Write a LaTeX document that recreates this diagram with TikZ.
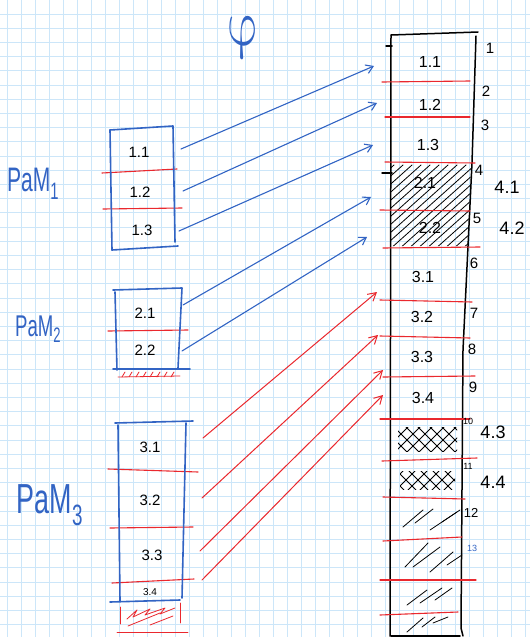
\documentclass[tikz,border=0pt]{standalone}
\usepackage{fontspec}
\setmainfont{Liberation Sans}
\usetikzlibrary{arrows.meta}
\definecolor{gridc}{RGB}{204,230,249}
\definecolor{penblue}{RGB}{50,100,196}
\definecolor{penred}{RGB}{234,40,46}
\begin{document}
\begin{tikzpicture}[x=1pt,y=-1pt,
  gridline/.style={draw=gridc,line width=0.9pt},
  bluepen/.style={draw=penblue,line width=1.6pt,line cap=round,line join=round},
  redsep/.style={draw=penred,line width=1.1pt,line cap=round},
  redthin/.style={draw=penred,line width=0.8pt,line cap=round,line join=round},
  blackpen/.style={draw=black,line width=1.5pt,line cap=round,line join=round},
  hatch/.style={draw=black,line width=0.8pt,line cap=round},
  cell/.style={inner sep=0pt,font=\fontsize{16}{16}\selectfont},
  lcell/.style={inner sep=0pt,font=\fontsize{15}{15}\selectfont},
  num/.style={inner sep=0pt,font=\fontsize{15}{15}\selectfont},
  bignum/.style={inner sep=0pt,font=\fontsize{18}{18}\selectfont},
  smallnum/.style={inner sep=0pt,font=\fontsize{9}{9}\selectfont},
  pam/.style={inner sep=0pt,text=penblue},
  arrB/.style={draw=penblue,line width=1.1pt,line cap=round,-{Straight Barb[length=7pt,width=9pt]}},
  arrR/.style={draw=penred,line width=1.0pt,line cap=round,-{Straight Barb[length=8pt,width=9pt]}}
]
\fill[white] (0,0) rectangle (530,637);
\useasboundingbox (0,0) rectangle (530,637);
% grid paper
\foreach \k in {0,...,37} \draw[gridline] ({7+14*\k},0) -- ({7+14*\k},637);
\foreach \k in {1,...,44} \draw[gridline] (0,{14.2*\k-0.2}) -- (530,{14.2*\k-0.2});

% title
\node[pam,transform shape,xslant=-0.2] (phi) at (244,38) {\scalebox{4.6}[6.6]{$\varphi$}};

% ---------- right column ----------
% hatching 2.1 / 2.2
\begin{scope}
  \clip (391,164) -- (471,164) -- (468,246) -- (391,246) -- cycle;
  \foreach \k in {0,...,20} \draw[hatch] ({290+9*\k},250) -- ++(95,-85);
\end{scope}
% cross hatching 4.3, 4.4
\begin{scope}
  \clip (398,427) rectangle (457,451);
  \foreach \k in {0,...,9} {\draw[hatch] ({368+12*\k},455) -- ++(30,-30);
                           \draw[hatch] ({368+12*\k},425) -- ++(30,30);}
\end{scope}
\begin{scope}
  \clip (400,471) rectangle (455,489);
  \foreach \k in {0,...,9} {\draw[hatch] ({370+12*\k},492) -- ++(22,-22);
                           \draw[hatch] ({370+12*\k},468) -- ++(22,22);}
\end{scope}
% sparse strokes in lower cells
\draw[hatch] (403,527) -- (423,510);
\draw[hatch] (415,523) -- (433,509);
\draw[hatch] (430,530) -- (457,512);
\draw[hatch] (442,522) -- (460,510);
\draw[hatch] (405,567) -- (428,543);
\draw[hatch] (413,567) -- (440,547);
\draw[hatch] (430,572) -- (453,552);
\draw[hatch] (447,565) -- (462,555);
\draw[hatch] (407,605) -- (427,590);
\draw[hatch] (420,603) -- (442,588);
\draw[hatch] (435,600) -- (452,588);
\draw[hatch] (407,632) -- (423,618);
\draw[hatch] (422,627) -- (435,617);
\draw[hatch] (433,623) -- (448,617);

% column outline
\draw[blackpen] (391,35) -- (478,32);
\draw[blackpen] (391,35) -- (390,636);
\draw[blackpen] (476,36) -- (472,163) -- (463,350) -- (461,628) -- (463,636);
\draw[blackpen] (391,636) -- (460,636);
\draw[blackpen] (386,46) -- (392,46);
\draw[blackpen] (382,173) -- (392,173);

% red separators in column
\draw[redsep] (382,82) -- (470,81);
\draw[redsep] (385,117) -- (470,117);
\draw[redsep] (385,162) -- (475,163);
\draw[redsep] (380,210) -- (470,211);
\draw[redsep] (383,248) -- (480,247);
\draw[redsep] (380,300) -- (472,302);
\draw[redsep] (380,336) -- (470,338);
\draw[redsep] (383,377) -- (475,376);
\draw[redsep] (380,419) -- (470,419);
\draw[redsep] (382,461) -- (477,458);
\draw[redsep] (383,497) -- (465,499);
\draw[redsep] (383,541) -- (462,537);
\draw[redsep] (380,580) -- (476,580);
\draw[redsep] (380,615) -- (458,612);

% column labels
\node[cell] (c11) at (430,62) {1.1};
\node[cell] (c12) at (430,105) {1.2};
\node[cell] (c13) at (428,145) {1.3};
\node[cell] (c21) at (425,183) {2.1};
\node[cell] (c22) at (430,228) {2.2};
\node[cell] (c31) at (423,277) {3.1};
\node[cell] (c32) at (422,317) {3.2};
\node[cell] (c33) at (422,357) {3.3};
\node[cell] (c34) at (423,398) {3.4};

% addresses
\node[num] (n1) at (490,48) {1};
\node[num] (n2) at (486,91) {2};
\node[num] (n3) at (485,125) {3};
\node[num] (n4) at (479,170) {4};
\node[num] (n5) at (477,218) {5};
\node[num] (n6) at (474,263) {6};
\node[num] (n7) at (474,313) {7};
\node[num] (n8) at (472,349) {8};
\node[num] (n9) at (473,387) {9};
\node[smallnum] (n10) at (468,421) {10};
\node[smallnum] (n11) at (468,466) {11};
\node[num,font=\fontsize{13}{13}\selectfont] (n12) at (471,513) {12};
\node[smallnum,text=penblue] (n13) at (472,548) {13};
\node[bignum] (v41) at (507,187) {4.1};
\node[bignum] (v42) at (512,228) {4.2};
\node[bignum] (v43) at (493,432) {4.3};
\node[bignum] (v44) at (493,482) {4.4};

% ---------- left blocks ----------
\node[pam] (pam1) at (33,184) {\scalebox{0.62}[1]{\fontsize{34}{34}\selectfont PaM\textsubscript{1}}};
\node[pam] (pam2) at (38,329) {\scalebox{0.62}[1]{\fontsize{30}{30}\selectfont PaM\textsubscript{2}}};
\node[pam] (pam3) at (50,505) {\scalebox{0.64}[1]{\fontsize{42}{42}\selectfont PaM\textsubscript{3}}};

% block 1
\draw[redsep] (102,173) -- (177,169);
\draw[redsep] (103,209) -- (182,208);
\draw[bluepen] (110,130) -- (173,126) -- (175,242);
\draw[bluepen] (110,130) -- (112,250);
\draw[bluepen] (112,250) -- (178,246);
\node[lcell] (b11) at (139,152) {1.1};
\node[lcell] (b12) at (140,192) {1.2};
\node[lcell] (b13) at (142,230) {1.3};

% block 2
\draw[redsep] (108,331) -- (188,330);
\draw[bluepen] (113,290) -- (182,288) -- (178,368);
\draw[bluepen] (115,292) -- (117,370);
\draw[bluepen] (113,369) -- (190,369);
\draw[redthin] (118,377) -- (180,376);
\foreach \x in {122,129,...,175} \draw[redthin] (\x,377) -- ++(3,-5);
\node[lcell] (b21) at (145,313) {2.1};
\node[lcell] (b22) at (145,350) {2.2};

% block 3
\draw[redsep] (108,469) -- (198,472);
\draw[redsep] (110,528) -- (193,527);
\draw[redsep] (112,583) -- (194,579);
\draw[bluepen] (115,423) -- (193,421);
\draw[bluepen] (186,423) -- (182,598);
\draw[bluepen] (118,425) -- (120,601);
\draw[bluepen] (110,602) -- (180,600);
\node[lcell] (b31) at (150,447) {3.1};
\node[lcell] (b32) at (150,500) {3.2};
\node[lcell] (b33) at (152,555) {3.3};
\node[inner sep=0pt,font=\fontsize{10}{10}\selectfont] (b34) at (150,592) {3.4};
% red hatched remainder
\draw[redthin] (120,607) -- (120,624);
\draw[redthin] (180,603) -- (180,623);
\draw[redthin] (117,632) -- (188,632);
\draw[redthin] (127,619) -- (137,610) -- (133,617) -- (150,609) -- (145,615) -- (165,608) -- (160,614) -- (175,608);
\draw[redthin] (128,626) -- (160,613);
\draw[redthin] (150,625) -- (173,616);

% ---------- arrows ----------
\coordinate (b1s) at (181,149); \coordinate (b1e) at (374,66);
\coordinate (b2s) at (183,191); \coordinate (b2e) at (377,103);
\coordinate (b3s) at (179,231); \coordinate (b3e) at (373,145);
\coordinate (b4s) at (183,305); \coordinate (b4e) at (371,197);
\coordinate (b5s) at (182,351); \coordinate (b5e) at (367,237);
\coordinate (r1s) at (203,438); \coordinate (r1e) at (377,292);
\coordinate (r2s) at (202,498); \coordinate (r2e) at (378,335);
\coordinate (r3s) at (200,551); \coordinate (r3e) at (383,370);
\coordinate (r4s) at (202,580); \coordinate (r4e) at (383,395);
\draw[arrB] (b1s) -- (b1e);
\draw[arrB] (b2s) -- (b2e);
\draw[arrB] (b3s) -- (b3e);
\draw[arrB] (b4s) -- (b4e);
\draw[arrB] (b5s) -- (b5e);
\draw[arrR] (r1s) -- (r1e);
\draw[arrR] (r2s) -- (r2e);
\draw[arrR] (r3s) -- (r3e);
\draw[arrR] (r4s) -- (r4e);
\end{tikzpicture}
\end{document}
